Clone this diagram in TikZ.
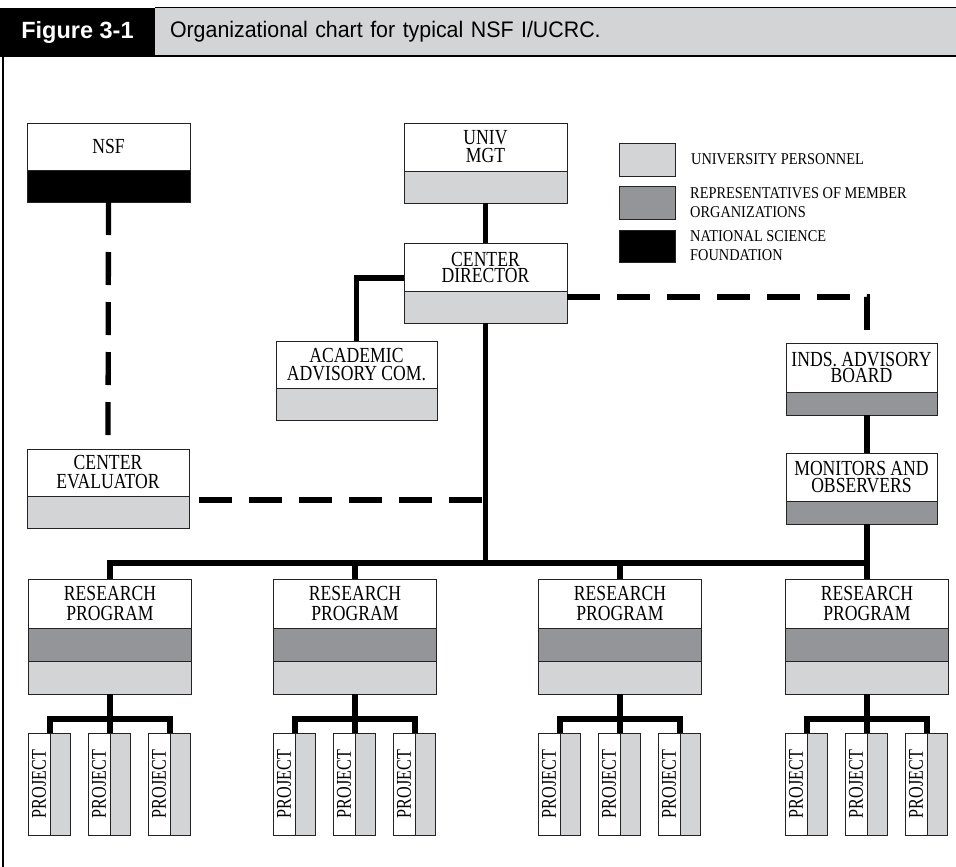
\documentclass[tikz,border=0pt]{standalone}
\usepackage{graphicx}
\usepackage{fontspec}
\newfontfamily\boxfont[FakeStretch=0.82]{Liberation Serif}
\newfontfamily\projfont[FakeStretch=0.77]{Liberation Serif}
\newfontfamily\legfont[FakeStretch=0.87]{Liberation Serif}
\newfontfamily\headfont[FakeStretch=0.95]{Liberation Sans}
\newfontfamily\labfont[FakeStretch=1.0]{Liberation Sans}
\definecolor{lightg}{RGB}{211,212,214}
\definecolor{darkg}{RGB}{147,149,152}
\definecolor{edge}{RGB}{35,35,35}
\begin{document}
\begin{tikzpicture}[x=1pt,y=1pt,
  wbox/.style={draw=edge, line width=0.9pt, fill=white, inner sep=0pt, outer sep=0pt,
    anchor=north west, align=center, font=\boxfont\fontsize{21.5}{#1}\selectfont},
  wbox/.default=18,
  band/.style={draw=edge, line width=0.9pt, fill=#1, inner sep=0pt, outer sep=0pt, anchor=north},
  projw/.style={draw=edge, line width=0.9pt, fill=white, inner sep=0pt, outer sep=0pt,
    anchor=north west, minimum width=22, minimum height=102,
    font=\projfont\fontsize{21}{21}\selectfont},
  projg/.style={draw=edge, line width=0.9pt, fill=lightg, inner sep=0pt, outer sep=0pt,
    anchor=north west, minimum width=20, minimum height=102},
  legbox/.style={draw=edge, line width=0.9pt, inner sep=0pt, outer sep=0pt,
    anchor=north west, minimum width=56, minimum height=33},
  legtext/.style={anchor=west, inner sep=0pt, align=left,
    font=\legfont\fontsize{16.5}{19}\selectfont},
  conn/.style={line width=5.3pt, line join=miter},
  dconn/.style={conn, dash pattern=on 33pt off 17pt}
]
\useasboundingbox (0,0) rectangle (956,-867);

% header
\node[fill=black, text=white, minimum width=155, minimum height=49, anchor=north west,
  inner sep=0pt, outer sep=0pt, font=\labfont\bfseries\fontsize{23.5}{23.5}\selectfont]
  (figlab) at (0,-8) {Figure 3-1};
\node[fill=lightg, minimum width=801, minimum height=48, anchor=north west, inner sep=0pt,
  outer sep=0pt, text width=771, align=left, font=\headfont\fontsize{22.5}{22.5}\selectfont]
  (figtitle) at (155,-8) {Organizational chart for typical NSF I/UCRC.};
\draw[line width=1pt] (figlab.north east) -- (figtitle.north east);
\draw[line width=1.6pt] (figtitle.south west) -- (figtitle.south east);
\draw[line width=1.5pt] ([xshift=3]figlab.south west) -- ++(0,-811);

% NSF
\node[wbox, minimum width=163, minimum height=47] (nsf) at (27,-123) {NSF};
\node[band=black, minimum width=163, minimum height=32] (nsfb) at (nsf.south) {};

% UNIV MGT
\node[wbox=18, minimum width=163, minimum height=48] (univ) at (404,-123) {UNIV\\MGT};
\node[band=lightg, minimum width=163, minimum height=32] (univb) at (univ.south) {};

% CENTER DIRECTOR
\node[wbox=16, minimum width=163, minimum height=48] (cd) at (404,-243) {CENTER\\DIRECTOR};
\node[band=lightg, minimum width=163, minimum height=32] (cdb) at (cd.south) {};

% ACADEMIC ADVISORY COM.
\node[wbox=18, minimum width=161, minimum height=47] (aac) at (276,-341) {ACADEMIC\\ADVISORY COM.};
\node[band=lightg, minimum width=161, minimum height=32] (aacb) at (aac.south) {};

% INDS. ADVISORY BOARD
\node[wbox=16.5, minimum width=151, minimum height=49] (inds) at (786,-343) {INDS. ADVISORY\\BOARD};
\node[band=darkg, minimum width=151, minimum height=23] (indsb) at (inds.south) {};

% MONITORS AND OBSERVERS
\node[wbox=17, minimum width=151, minimum height=48] (mo) at (786,-453) {MONITORS AND\\OBSERVERS};
\node[band=darkg, minimum width=151, minimum height=23] (mob) at (mo.south) {};

% CENTER EVALUATOR
\node[wbox=19, minimum width=162, minimum height=47] (ce) at (27,-449) {CENTER\\EVALUATOR};
\node[band=lightg, minimum width=162, minimum height=32] (ceb) at (ce.south) {};

% legend
\node[legbox, fill=lightg] (lg1) at (619,-143) {};
\node[legbox, fill=darkg] (lg2) at (619,-186) {};
\node[legbox, fill=black, minimum height=32] (lg3) at (619,-230) {};
\node[legtext] (lt1) at ([xshift=16]lg1.east) {UNIVERSITY PERSONNEL};
\node[legtext] (lt2) at ([xshift=15]lg2.east) {REPRESENTATIVES OF MEMBER\\ORGANIZATIONS};
\node[legtext] (lt3) at ([xshift=15]lg3.east) {NATIONAL SCIENCE\\FOUNDATION};

% research programs and projects
\foreach \i/\c in {1/110,2/355,3/620,4/867}{
  \node[wbox=20, minimum width=163, minimum height=49] (rp\i) at (\c-81.5,-579) {RESEARCH\\PROGRAM};
  \node[band=darkg, minimum width=163, minimum height=33] (rpd\i) at (rp\i.south) {};
  \node[band=lightg, minimum width=163, minimum height=33] (rpl\i) at (rpd\i.south) {};
  \foreach \k/\o in {1/-82,2/-22,3/38}{
    \node[projw] (pw\i\k) at (\c+\o,-733) {\rotatebox{90}{PROJECT}};
    \node[projg] (pg\i\k) at (pw\i\k.north east) {};
  }
  \coordinate (j\i) at (\c,-719);
  \draw[conn] (pw\i1.north east) |- (j\i) -| (pw\i3.north east);
  \draw[conn] (rpl\i.south) -- (pw\i2.north east);
}

% solid connectors
\coordinate (bus) at ([yshift=16]rp1.north);
\draw[conn] (univb.south) -- (cd.north);
\draw[conn] ([yshift=-11]cd.west) -| (aac.north);
\draw[conn] (cdb.south) -- (cdb.south |- bus);
\draw[conn] (rp1.north) -- (bus) -| (rp4.north);
\draw[conn] (rp2.north) -- (rp2.north |- bus);
\draw[conn] (rp3.north) -- (rp3.north |- bus);
\draw[conn] (indsb.south -| rp4.north) -- (mo.north -| rp4.north);
\draw[conn] (mob.south -| rp4.north) -- (bus -| rp4.north);

% dashed connectors
\draw[dconn] (nsfb.south) -- (ce.north);
\coordinate (ceo) at ([yshift=-4]ceb.north east);
\draw[dconn, dash phase=40pt] (ceo) -- (ceo -| cdb.south);
\coordinate (cdo) at ([yshift=-6]cdb.north east);
\draw[dconn] (cdo) -| (inds.north -| rp4.north);
\end{tikzpicture}
\end{document}
